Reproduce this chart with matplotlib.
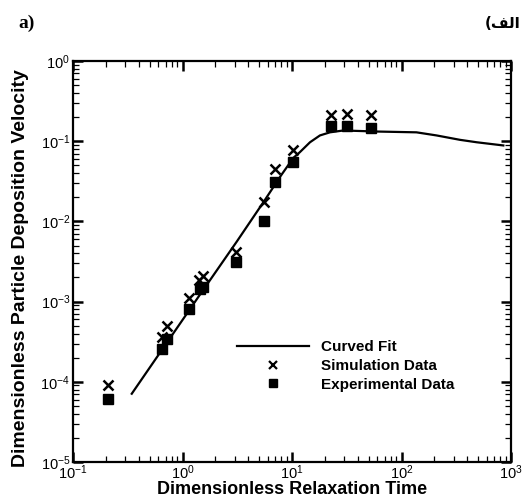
import matplotlib
matplotlib.use("Agg")
import matplotlib.pyplot as plt
from matplotlib.lines import Line2D
from matplotlib.ticker import LogLocator, NullFormatter

plt.rcParams['font.family'] = ['Liberation Sans', 'DejaVu Sans']
plt.rcParams['mathtext.default'] = 'regular'
plt.rcParams['axes.unicode_minus'] = False

# Curved fit
fit_x = [0.344, 1.40, 3.13, 5.55, 8.0, 10.3, 11.8, 14.6, 18.0, 22.2, 29.4, 59.3, 137, 209, 342, 486, 851]
fit_y = [7.1e-5, 1.15e-3, 5.6e-3, 1.78e-2, 3.8e-2, 0.062, 0.073, 0.097, 0.118, 0.129, 0.136, 0.132, 0.129, 0.118, 0.104, 0.097, 0.0885]

# Simulation data
sim_x = [0.21, 0.645, 0.718, 1.146, 1.42, 1.55, 3.1, 5.5, 7.0, 10.3, 22.7, 31.6, 53]
sim_y = [9.1e-5, 3.66e-4, 4.9e-4, 1.11e-3, 1.85e-3, 2.1e-3, 4.2e-3, 1.75e-2, 4.5e-2, 7.8e-2, 0.21, 0.218, 0.21]

# Experimental data
exp_x = [0.21, 0.645, 0.72, 1.15, 1.45, 1.55, 3.1, 5.5, 7.0, 10.3, 22.7, 31.6, 53]
exp_y = [6.1e-5, 2.6e-4, 3.4e-4, 8.1e-4, 1.42e-3, 1.5e-3, 3.1e-3, 1.0e-2, 3.1e-2, 5.5e-2, 0.155, 0.155, 0.147]

legend_labels = ["Curved Fit", "Simulation Data", "Experimental Data"]
xlabel = "Dimensionless Relaxation Time"
ylabel = "Dimensionless Particle Deposition Velocity"

W, H = 524, 497
fig = plt.figure(figsize=(W / 100, H / 100), dpi=100)
ax_l, ax_r, ax_t, ax_b = 73, 511, 61, 462
ax = fig.add_axes([ax_l / W, 1 - ax_b / H, (ax_r - ax_l) / W, (ax_b - ax_t) / H])

ax.plot(fit_x, fit_y, color='black', lw=1.6)
ax.plot(sim_x, sim_y, ls='none', marker='x', ms=6.5, mew=1.8, color='black')
ax.plot(exp_x, exp_y, ls='none', marker='s', ms=6.5, color='black')

ax.set_xscale('log')
ax.set_yscale('log')
ax.set_xlim(1e-1, 1e3)
ax.set_ylim(1e-5, 1e0)

ax.xaxis.set_major_locator(LogLocator(base=10, numticks=10))
ax.yaxis.set_major_locator(LogLocator(base=10, numticks=10))
ax.xaxis.set_minor_locator(LogLocator(base=10, subs=range(2, 10), numticks=20))
ax.yaxis.set_minor_locator(LogLocator(base=10, subs=range(2, 10), numticks=20))
ax.xaxis.set_minor_formatter(NullFormatter())
ax.yaxis.set_minor_formatter(NullFormatter())

for s in ax.spines.values():
    s.set_linewidth(1.6)
ax.tick_params(which='major', direction='in', top=True, right=True, length=7, width=1.8,
               labelsize=10.5, pad=2)
ax.tick_params(axis='x', which='major', pad=1)
ax.tick_params(which='minor', direction='in', top=True, right=True, length=4, width=0.9)

ax.set_xlabel(xlabel, fontsize=13, fontweight='bold')
ax.xaxis.label.set_va('baseline')
ax.xaxis.set_label_coords(0.5, (ax_b - 494.5) / (ax_b - ax_t))
ax.set_ylabel(ylabel, fontsize=14, fontweight='bold')
ax.yaxis.label.set_va('center')
ax.yaxis.set_label_coords((21 - ax_l) / (ax_r - ax_l), (ax_b - 268) / (ax_b - ax_t))

handles = [
    Line2D([], [], color='black', lw=1.6),
    Line2D([], [], ls='none', marker='x', ms=5.5, mew=1.6, color='black'),
    Line2D([], [], ls='none', marker='s', ms=5.5, color='black'),
]
leg = ax.legend(handles, legend_labels, loc='upper left',
                bbox_to_anchor=(237 / W, 1 - 340 / H), bbox_transform=fig.transFigure,
                frameon=False, prop={'weight': 'bold', 'size': 11}, handlelength=4.7,
                handletextpad=0.8, labelspacing=0.32, borderpad=0, borderaxespad=0)

fig.text(18 / W, 1 - 28 / H, "a)", fontsize=14, fontweight='bold',
         family=['Liberation Serif', 'DejaVu Serif'], ha='left', va='baseline')
fig.text(521 / W, 1 - 28 / H, "(\uFED2\uFEDF\u0627", fontsize=11, fontweight='bold',
         family=['DejaVu Sans'], ha='right', va='baseline')

fig.savefig("out.png", dpi=100)
